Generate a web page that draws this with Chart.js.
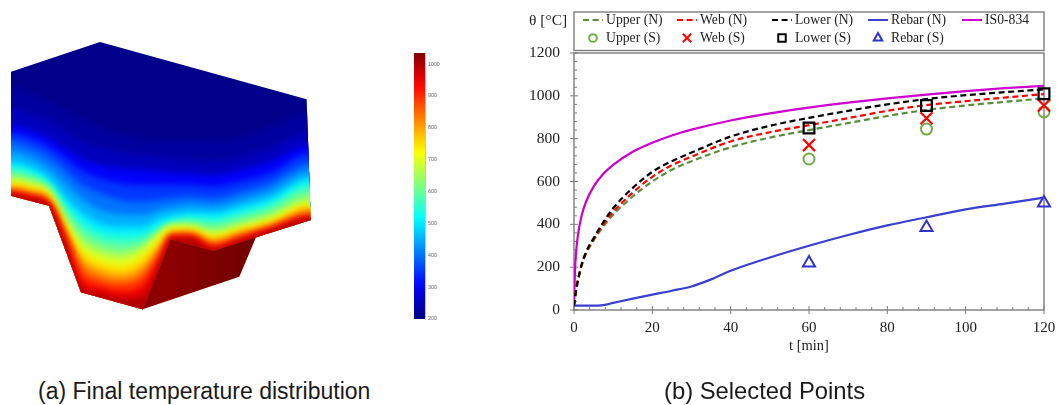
<!DOCTYPE html>
<html><head><meta charset="utf-8">
<script src="https://cdn.jsdelivr.net/npm/chart.js@4"></script>
<style>
html,body{margin:0;padding:0;background:#fff;width:1059px;height:405px;overflow:hidden}
.box{position:absolute}
.cap{position:absolute;font-family:"Liberation Sans",Arial,sans-serif;font-size:23px;color:#1a1a1a;white-space:nowrap;line-height:26px}
</style></head><body>
<div class="box" style="left:0;top:30px;width:320px;height:290px;filter:blur(.4px)"><canvas id="section"></canvas></div>
<div class="box" style="left:400px;top:40px;width:60px;height:290px;filter:blur(.5px)"><canvas id="bar"></canvas></div>
<div class="box" style="left:495px;top:0;width:564px;height:405px;filter:blur(.35px)"><canvas id="main"></canvas></div>
<div class="cap" style="left:38px;top:378px">(a) Final temperature distribution</div>
<div class="cap" style="left:664px;top:378px;font-size:23.8px">(b) Selected Points</div>
<script>
// ---- Panel (b) data
const timeN  = [0,0.5,1,2,3,5,7.5,10,15,20,25,30,40,50,60,70,80,90,100,110,120];
const upperN = [20,85,135,210,260,325,390,445,530,600,655,695,760,805,840,873,906,934,955,972,988];
const webN   = [20,88,138,213,263,330,400,458,548,622,676,716,787,830,863,896,930,957,975,992,1008];
const lowerN = [20,90,140,216,268,335,410,475,570,645,695,735,810,860,897,930,960,985,1003,1017,1030];
const timeR  = [0,5,7.5,10,15,20,25,30,35,40,50,60,70,80,90,100,110,120];
const rebarN = [20,20,23,33,53,72,90,110,143,183,245,300,350,395,433,470,497,525];
const timeF  = [0,0.25,0.5,1,2,3,5,7.5,10,15,20,25,30,40,50,60,70,80,90,100,110,120];
const iso834 = [20,185,261,349,445,502,576,636,678,739,781,815,842,885,918,945,968,988,1006,1022,1036,1047];
const timeS  = [60,90,120];
const upperS = [705,845,925];
const webS   = [770,895,955];
const lowerS = [850,955,1010];
const rebarS = [220,385,500];
const yTickStep = 200, xTickStep = 20, yMinorStep = 40, xMinorStep = 4;

// ---- Panel (a) data: isotherm heights read at stations across the section
const stations = [33,90,147,195,243,300,360,426,480,516,570,639,720,810,932];
const temps = [225,250,300,350,400,450,500,550,600,650,700,750,800,850,900,950,1000];
const iso225 = [170,190,215,240,265,290,310,325,330,330,330,330,320,290,245];
const iso250 = [235,250,270,300,330,350,365,375,380,385,390,395,380,350,300];
const iso300 = [285,300,325,355,385,405,415,420,425,428,430,435,420,395,345];
const iso350 = [310,325,352,385,420,445,460,465,465,465,465,470,455,430,370];
const iso400 = [335,352,382,420,462,490,510,515,510,505,500,505,485,458,400];
const iso450 = [365,382,415,460,505,540,553,555,540,532,525,528,510,482,424];
const iso500 = [395,410,445,500,545,580,590,590,565,555,548,550,530,505,445];
const iso550 = [412,425,458,520,570,605,615,612,585,570,562,565,547,520,460];
const iso600 = [425,437,468,538,595,628,640,630,598,580,572,582,562,535,478];
const iso650 = [438,450,478,555,618,652,665,648,605,585,582,597,577,550,498];
const iso700 = [450,462,487,570,640,672,685,660,610,588,590,610,590,565,515];
const iso750 = [460,470,495,583,660,695,708,682,628,598,597,618,598,573,525];
const iso800 = [470,480,503,595,680,715,730,705,645,607,604,628,606,582,535];
const iso850 = [478,488,510,603,700,735,748,725,658,612,610,637,613,589,545];
const iso900 = [485,495,518,610,720,755,765,745,670,615,615,645,620,595,555];
const iso950 = [490,500,522,625,745,772,785,770,685,620,620,652,628,598,560];
const iso1000= [494,504,526,640,770,790,805,800,700,625,625,658,632,602,566];
const isotherms = [iso225,iso250,iso300,iso350,iso400,iso450,iso500,iso550,iso600,iso650,iso700,iso750,iso800,iso850,iso900,iso950,iso1000];
const edgeTopX = [33,300,920,932],  edgeTopY = [125,36,208,570];
const edgeLowX = [33,147,243,428,512,640,932], edgeLowY = [497,527,787,838,628,662,570];
const faceTopX = [428,512,640,768], faceTopY = [838,628,662,622];
const faceLowX = [428,718,768],     faceLowY = [838,740,622];
const colorbarRange = [200,1035];
const colorbarTicks = [200,300,400,500,600,700,800,900,1000];

const pts=(xs,ys)=>xs.map((x,i)=>({x,y:ys[i]}));
function jet(T){
  const t=(T-200)/(1040-200);
  const c=v=>Math.round(255*Math.max(0,Math.min(1,v)));
  const r=1.5-Math.abs(4*t-3), g=1.5-Math.abs(4*t-2), b=1.5-Math.abs(4*t-1);
  return `rgb(${c(r)},${c(g)},${c(b)})`;
}

// ---- Panel (a) chart
const sectionSets=[
 {data:pts([0,960],[870,870]),order:100,pointRadius:0,borderWidth:0,showLine:true},
 {data:pts([0,960],[0,0]),order:99,pointRadius:0,borderWidth:0,showLine:true,fill:0,backgroundColor:'#00008a'}
];
isotherms.forEach((row,i)=>sectionSets.push({
  data:pts([0,...stations,960],[row[0],...row,row[row.length-1]]),order:98-i,pointRadius:0,borderWidth:0,showLine:true,
  cubicInterpolationMode:'monotone',fill:0,backgroundColor:jet(temps[i])
}));

const outlinePlugin={
  id:'outline',
  beforeDatasetsDraw(chart){
    const {ctx,scales:{x,y}}=chart;
    ctx.save();
    ctx.beginPath();
    edgeTopX.forEach((v,i)=>ctx.lineTo(x.getPixelForValue(v),y.getPixelForValue(edgeTopY[i])));
    for(let i=edgeLowX.length-1;i>=0;i--)ctx.lineTo(x.getPixelForValue(edgeLowX[i]),y.getPixelForValue(edgeLowY[i]));
    ctx.closePath();
    ctx.clip();
    ctx.filter='blur(3px)';
  },
  afterDatasetsDraw(chart){
    const {ctx,scales:{x,y}}=chart;
    ctx.restore();
    // the dark end face of the section
    ctx.save();
    ctx.beginPath();
    faceTopX.forEach((v,i)=>ctx.lineTo(x.getPixelForValue(v),y.getPixelForValue(faceTopY[i])));
    for(let i=faceLowX.length-2;i>0;i--)ctx.lineTo(x.getPixelForValue(faceLowX[i]),y.getPixelForValue(faceLowY[i]));
    ctx.closePath();
    const g=ctx.createLinearGradient(x.getPixelForValue(512),0,x.getPixelForValue(718),0);
    g.addColorStop(0,'#8c0000');g.addColorStop(1,'#760000');
    ctx.fillStyle=g;ctx.fill();
    ctx.restore();
  }
};
const hidden={display:false,grid:{display:false},border:{display:false}};
new Chart(document.getElementById('section'),{
  type:'scatter',
  data:{datasets:sectionSets},
  plugins:[outlinePlugin],
  options:{responsive:true,maintainAspectRatio:false,animation:false,events:[],
    layout:{padding:0},
    plugins:{legend:{display:false},tooltip:{enabled:false},filler:{propagate:false}},
    scales:{x:{...hidden,type:'linear',min:0,max:960},y:{...hidden,type:'linear',min:0,max:870,reverse:true}}
  }
});

// ---- Colour bar
const barStops=[];for(let T=200;T<=1040;T+=40)barStops.push(T);
new Chart(document.getElementById('bar'),{
  type:'bar',
  data:{labels:['T'],datasets:[{data:[colorbarRange],barPercentage:1,categoryPercentage:1,
    backgroundColor(ctx){
      const a=ctx.chart.chartArea; if(!a)return '#000';
      const g=ctx.chart.ctx.createLinearGradient(0,a.bottom,0,a.top);
      barStops.forEach(T=>g.addColorStop(Math.min(1,(T-colorbarRange[0])/(colorbarRange[1]-colorbarRange[0])),jet(T)));
      return g;
    },borderWidth:0}]},
  options:{responsive:true,maintainAspectRatio:false,animation:false,events:[],
    layout:{padding:{left:14,top:13,bottom:11,right:0}},
    plugins:{legend:{display:false},tooltip:{enabled:false}},
    scales:{
      x:{...hidden},
      y:{position:'right',min:colorbarRange[0],max:colorbarRange[1],grid:{display:false,drawTicks:false},border:{display:true,color:'#8a8a8a',width:.5},
         afterFit(s){s.width=35},
         afterBuildTicks(s){s.ticks=colorbarTicks.map(value=>({value}))},
         ticks:{color:'#666',font:{family:'"Liberation Sans"',size:5.3},padding:3,autoSkip:false,callback:v=>String(v)}}
    }
  }
});

// ---- Panel (b) chart
const dashed=[6,3.6];
const lineW=2.2;
const mainSets=[
 {label:'Upper (N)',data:pts(timeN,upperN),showLine:true,borderColor:'#5b8c3a',borderWidth:lineW,borderDash:dashed,pointRadius:0,cubicInterpolationMode:'monotone',order:6},
 {label:'Web (N)',data:pts(timeN,webN),showLine:true,borderColor:'#ff0000',borderWidth:lineW,borderDash:dashed,pointRadius:0,cubicInterpolationMode:'monotone',order:5},
 {label:'Lower (N)',data:pts(timeN,lowerN),showLine:true,borderColor:'#000000',borderWidth:lineW,borderDash:dashed,pointRadius:0,cubicInterpolationMode:'monotone',order:4},
 {label:'Rebar (N)',data:pts(timeR,rebarN),showLine:true,borderColor:'#3a3fd0',borderWidth:lineW,pointRadius:0,cubicInterpolationMode:'monotone',order:7},
 {label:'IS0-834',data:pts(timeF,iso834),showLine:true,borderColor:'#cc00cc',borderWidth:lineW,pointRadius:0,cubicInterpolationMode:'monotone',order:8},
 {label:'Upper (S)',data:pts(timeS,upperS),showLine:false,clip:false,pointStyle:'circle',pointRadius:5.5,pointBorderWidth:2,pointBorderColor:'#70ad47',pointBackgroundColor:'transparent',order:3},
 {label:'Web (S)',data:pts(timeS,webS),showLine:false,clip:false,pointStyle:'crossRot',pointRadius:8.5,pointBorderWidth:2.2,pointBorderColor:'#ff0000',order:2},
 {label:'Lower (S)',data:pts(timeS,lowerS),showLine:false,clip:false,pointStyle:'rect',pointRadius:7.6,pointBorderWidth:2.2,pointBorderColor:'#000000',pointBackgroundColor:'transparent',order:1},
 {label:'Rebar (S)',data:pts(timeS,rebarS),showLine:false,clip:false,pointStyle:'triangle',pointRadius:7,pointBorderWidth:2,pointBorderColor:'#3333cc',pointBackgroundColor:'transparent',order:0}
];
const legendCols=[88,182,277,373,467], legendRows=[20,38];
const frameColor='#7d7d7d';
const serif='"Liberation Serif","Times New Roman",serif';
const framePlugin={
  id:'frame',
  beforeDatasetsDraw(chart){
    const {ctx,chartArea:a,scales:{x,y}}=chart;
    ctx.save();
    ctx.strokeStyle=frameColor;ctx.lineWidth=1.4;
    ctx.strokeRect(a.left,a.top,a.right-a.left,a.bottom-a.top);
    ctx.lineWidth=1;
    ctx.beginPath();
    for(let v=0;v<=120;v+=xMinorStep){
      const p=x.getPixelForValue(v),maj=v%xTickStep===0;
      ctx.moveTo(p,a.bottom+(maj?4:0));ctx.lineTo(p,a.bottom-(maj?4:3));
    }
    for(let v=0;v<=1200;v+=yMinorStep){
      const p=y.getPixelForValue(v),maj=v%yTickStep===0;
      ctx.moveTo(a.left-(maj?4:0),p);ctx.lineTo(a.left+(maj?4:3),p);
    }
    ctx.stroke();
    ctx.restore();
  },
  afterDraw(chart){
    const {ctx,chartArea:a}=chart;
    ctx.save();
    const top=12,bot=50.5;
    ctx.strokeStyle=frameColor;
    ctx.lineWidth=1.4;ctx.strokeRect(a.left,top,a.right-a.left,bot-top);
    ctx.font='13.7px '+serif;ctx.textBaseline='middle';ctx.textAlign='left';
    chart.data.datasets.forEach((d,i)=>{
      const c=legendCols[i%5],r=legendRows[i<5?0:1];
      ctx.fillStyle='#222';ctx.fillText(d.label,c+23,r+.5);
      if(d.showLine){
        ctx.strokeStyle=d.borderColor;ctx.lineWidth=2;ctx.setLineDash(d.borderDash||[]);
        ctx.beginPath();ctx.moveTo(c,r);ctx.lineTo(c+20,r);ctx.stroke();ctx.setLineDash([]);
      }else{
        ctx.strokeStyle=d.pointBorderColor;ctx.lineWidth=2;ctx.fillStyle='transparent';
        Chart.helpers.drawPoint(ctx,{pointStyle:d.pointStyle,rotation:0,radius:d.pointRadius*.7,borderWidth:2},c+10,r);
      }
    });
    ctx.fillStyle='#222';ctx.font='15.5px '+serif;ctx.textAlign='left';
    ctx.fillText('θ [°C]',34,21);
    ctx.restore();
  }
};
new Chart(document.getElementById('main'),{
  type:'scatter',
  data:{datasets:mainSets},
  plugins:[framePlugin],
  options:{responsive:true,maintainAspectRatio:false,animation:false,events:[],
    layout:{padding:{top:53,right:15,left:0,bottom:50}},
    plugins:{legend:{display:false},tooltip:{enabled:false}},
    scales:{
      x:{type:'linear',min:0,max:120,grid:{display:false,drawTicks:false},border:{display:false},
         afterFit(s){s.height=45;s.paddingRight=0;s.paddingLeft=0},
         ticks:{stepSize:xTickStep,color:'#222',font:{family:serif,size:15},padding:9,maxRotation:0,callback:v=>String(v)},
         title:{display:true,text:'t [min]',color:'#222',font:{family:serif,size:14.5},padding:{top:0,bottom:0}}},
      y:{type:'linear',min:0,max:1200,grid:{display:false,drawTicks:false},border:{display:false},
         afterFit(s){s.width=79},
         ticks:{stepSize:yTickStep,color:'#222',font:{family:serif,size:15.5},padding:14,callback:v=>String(v)}}
    }
  }
});
</script>
</body></html>
